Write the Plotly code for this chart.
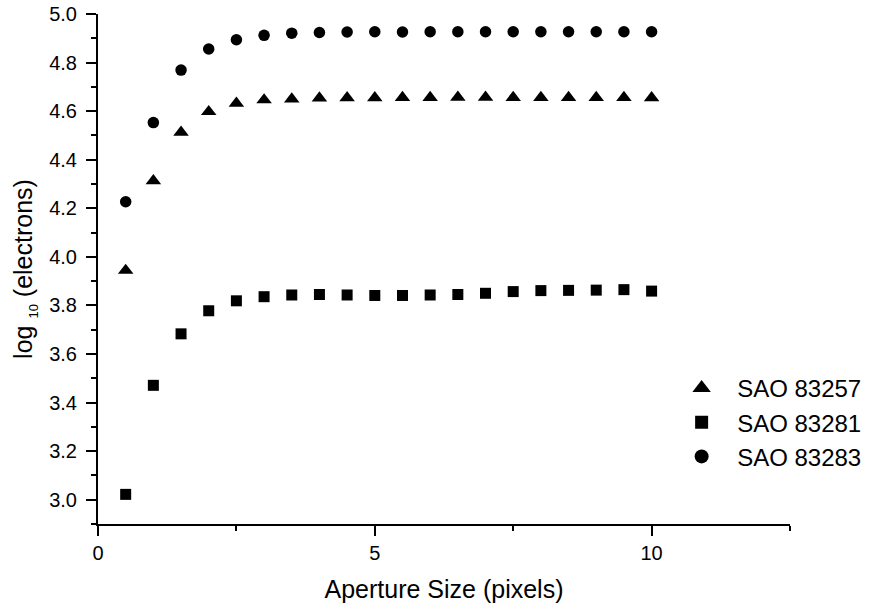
import plotly.graph_objects as go

# Aperture photometry: aperture radius (pixels) vs log10 of collected electrons
aperture = [0.5, 1.0, 1.5, 2.0, 2.5, 3.0, 3.5, 4.0, 4.5, 5.0,
            5.5, 6.0, 6.5, 7.0, 7.5, 8.0, 8.5, 9.0, 9.5, 10.0]

sao_83257 = [3.944, 4.313, 4.513, 4.598, 4.632, 4.646, 4.650, 4.654, 4.655, 4.655,
             4.656, 4.656, 4.657, 4.657, 4.656, 4.656, 4.656, 4.656, 4.656, 4.655]
sao_83281 = [3.022, 3.471, 3.683, 3.778, 3.819, 3.836, 3.843, 3.845, 3.843, 3.841,
             3.841, 3.843, 3.845, 3.850, 3.857, 3.861, 3.862, 3.863, 3.865, 3.859]
sao_83283 = [4.227, 4.553, 4.769, 4.856, 4.894, 4.912, 4.921, 4.924, 4.926, 4.927,
             4.926, 4.927, 4.927, 4.927, 4.927, 4.927, 4.927, 4.927, 4.927, 4.927]

series = [
    ("SAO 83257", sao_83257, "triangle-up", 13.5, 17),
    ("SAO 83281", sao_83281, "square", 11, 13),
    ("SAO 83283", sao_83283, "circle", 11.5, 14),
]

FONT = "Arial, 'Liberation Sans', Helvetica, sans-serif"

fig = go.Figure()
for name, vals, sym, size, legsize in series:
    # data points
    fig.add_trace(go.Scatter(
        x=aperture, y=vals, mode="markers", name=name, showlegend=False,
        marker=dict(symbol=sym, size=size, color="black", line=dict(width=0)),
    ))
    # legend entry with slightly larger symbol
    fig.add_trace(go.Scatter(
        x=[None], y=[None], mode="markers", name=name, showlegend=True,
        marker=dict(symbol=sym, size=legsize, color="black", line=dict(width=0)),
    ))

fig.update_layout(
    width=869, height=605,
    margin=dict(l=98, r=79, t=14, b=81, autoexpand=False),
    paper_bgcolor="white", plot_bgcolor="white",
    font=dict(family=FONT, color="black", size=20),
    legend=dict(
        x=0.821, y=0.31, xanchor="left", yanchor="top",
        font=dict(size=24, family=FONT, color="black"),
        bgcolor="rgba(0,0,0,0)", borderwidth=0,
        itemwidth=61, tracegroupgap=0,
    ),
)

fig.update_xaxes(
    range=[0, 12.5], showgrid=False, zeroline=False,
    showline=True, linecolor="black", linewidth=2,
    ticks="outside", ticklen=10, tickwidth=2, tickcolor="black",
    tickmode="linear", tick0=0, dtick=5,
    minor=dict(ticks="outside", ticklen=5, tickwidth=2, tickcolor="black",
               tick0=0, dtick=2.5, showgrid=False),
    tickfont=dict(size=20, family=FONT),
    title=dict(text="Aperture Size (pixels)", font=dict(size=25, family=FONT), standoff=17),
)

fig.update_yaxes(
    range=[2.9, 5.0], showgrid=False, zeroline=False,
    showline=True, linecolor="black", linewidth=2,
    ticks="outside", ticklen=10, tickwidth=2, tickcolor="black",
    tickmode="linear", tick0=3.0, dtick=0.2, tickformat=".1f",
    minor=dict(ticks="outside", ticklen=5, tickwidth=2, tickcolor="black",
               tick0=2.9, dtick=0.1, showgrid=False),
    tickfont=dict(size=20, family=FONT),
    ticklabelstandoff=5,
    title=dict(text="log <sub><span style='font-size:13px'>10</span></sub> (electrons)",
               font=dict(size=25, family=FONT), standoff=9),
)

fig.write_html("out.html")
